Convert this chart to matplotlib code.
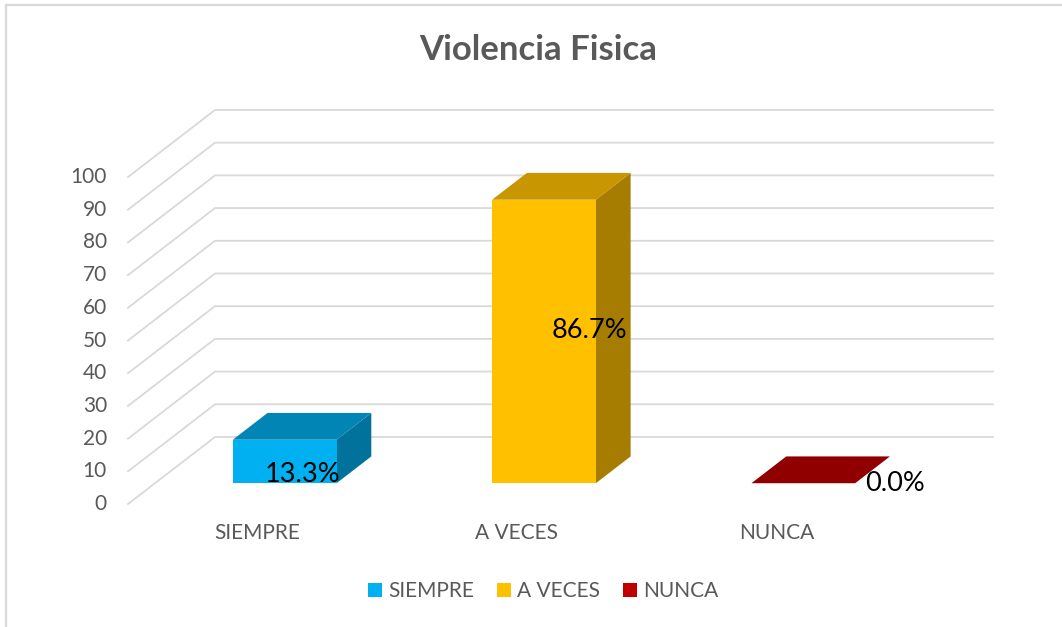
import matplotlib.pyplot as plt
from matplotlib.patches import Polygon, Patch
from matplotlib.lines import Line2D

plt.rcParams['font.family'] = ['Lato', 'DejaVu Sans']

# data
categories = ['SIEMPRE', 'A VECES', 'NUNCA']
values = [13.3, 86.7, 0.0]
labels = ['13.3%', '86.7%', '0.0%']
yticks = [0, 10, 20, 30, 40, 50, 60, 70, 80, 90, 100]

front_cols = ['#00B0F0', '#FFC000', '#C00000']
top_cols = ['#0085B5', '#C79600', '#900000']
side_cols = ['#00729C', '#A67D00', '#7A0000']

# oblique "3D" look: depth offset in data units
DX, DY = 0.3355, 20.5
Z0, Z1 = 0.31, 0.71      # front / back of the bars as fraction of depth
HW = 0.2                 # half bar width
grid_col = '#D9D9D9'
text_col = '#595959'


def proj(x, y, z):
    return (x + z * DX, y + z * DY)


fig = plt.figure(figsize=(10.62, 6.27), dpi=100)
ax = fig.add_axes([0, 0, 1, 1])
ax.set_xlim(-0.9936, 3.1016)
ax.set_ylim(-37.61, 154.13)
ax.axis('off')

# gridlines: diagonal side wall + back wall
for v in yticks:
    p0 = proj(-0.5, v, 0)
    p1 = proj(-0.5, v, 1)
    p2 = proj(2.5, v, 1)
    ax.plot([p0[0], p1[0], p2[0]], [p0[1], p1[1], p2[1]],
            color=grid_col, lw=1.3, zorder=1, solid_joinstyle='miter')
    ax.text(-0.581, v, str(v), ha='right', va='center',
            fontsize=15, color=text_col)

# bars
for i, v in enumerate(values):
    l, r = i - HW, i + HW
    top = [proj(l, v, Z0), proj(r, v, Z0), proj(r, v, Z1), proj(l, v, Z1)]
    if v > 0:
        front = [proj(l, 0, Z0), proj(r, 0, Z0), proj(r, v, Z0), proj(l, v, Z0)]
        side = [proj(r, 0, Z0), proj(r, 0, Z1), proj(r, v, Z1), proj(r, v, Z0)]
        ax.add_patch(Polygon(side, closed=True, fc=side_cols[i], ec='none', zorder=3))
        ax.add_patch(Polygon(front, closed=True, fc=front_cols[i], ec='none', zorder=3))
    ax.add_patch(Polygon(top, closed=True, fc=top_cols[i], ec='none', zorder=3))

# data labels (Excel puts them a bit oddly on 3D bars)
label_pos = [(0.175, 9.0), (0.281, 53.0), (0.458, 6.4)]
for i, (dx, yv) in enumerate(label_pos):
    ax.text(i + dx, yv, labels[i], ha='center', va='center',
            fontsize=19.5, color='black', zorder=5)

# category labels
for i, c in enumerate(categories):
    ax.text(i, -8.9, c, ha='center', va='center', fontsize=15, color=text_col)

# title
fig.text(538 / 1062, 1 - 50 / 627, 'Violencia Fisica', ha='center', va='center',
         fontsize=25, fontweight='bold', color=text_col)

# legend
handles = [Patch(fc=c, ec='none') for c in front_cols]
fig.legend(handles, categories, loc='center', ncol=3,
           bbox_to_anchor=(543 / 1062, 1 - 591 / 627), frameon=False,
           handlelength=0.68, handleheight=0.68, handletextpad=0.28,
           columnspacing=1.1, fontsize=15, labelcolor=text_col)

# chart border (left and top edges visible in the crop)
fig.add_artist(Line2D([6 / 1062, 6 / 1062], [0, 1 - 5 / 627], color=grid_col, lw=1.6))
fig.add_artist(Line2D([6 / 1062, 1], [1 - 5 / 627, 1 - 5 / 627], color=grid_col, lw=1.6))

fig.savefig('out.png', dpi=100)
